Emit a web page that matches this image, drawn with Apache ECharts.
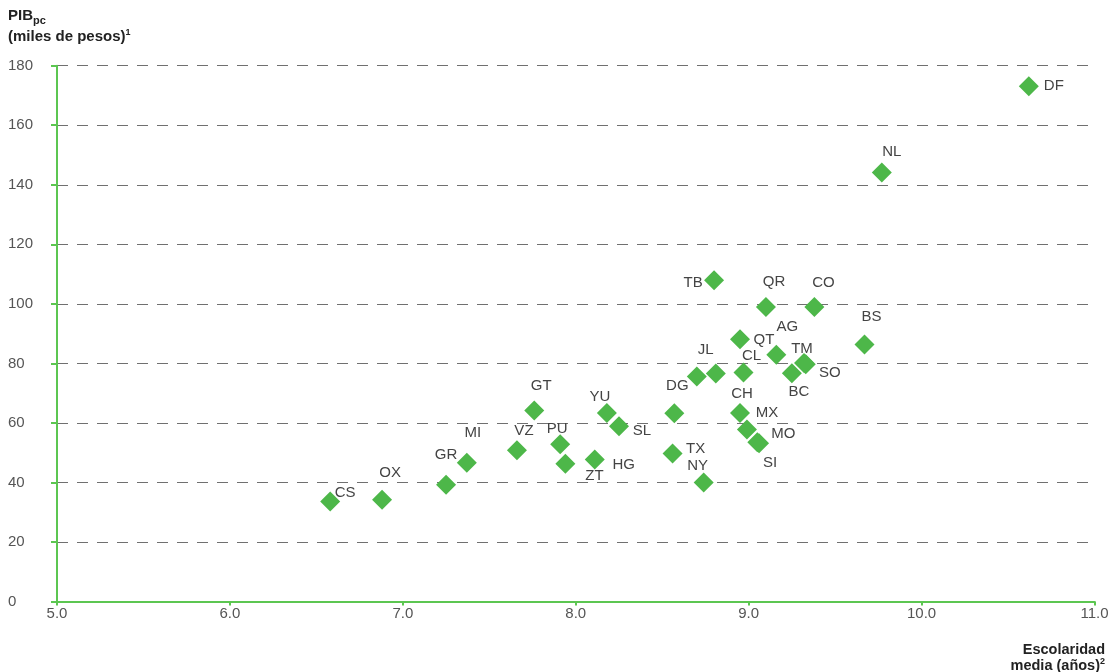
<!DOCTYPE html>
<html>
<head>
<meta charset="utf-8">
<script src="https://cdn.jsdelivr.net/npm/echarts@6/dist/echarts.min.js"></script>
<style>
  html, body { margin: 0; padding: 0; background: #fff; }
  #chart { width: 1109px; height: 672px; }
</style>
</head>
<body>
<div id="chart"></div>
<script>
// ---- Data ----
const states    = ['CS', 'OX', 'GR', 'MI', 'VZ', 'GT', 'PU', 'ZT', 'HG', 'YU', 'SL', 'DG', 'TX', 'NY', 'JL', '',
                   'TB', 'QR', 'CO', 'QT', 'AG', 'CL', 'BC', 'SO', 'TM', 'BS', 'CH', 'MX', 'SI', 'MO', 'NL', 'DF'];
const schooling = [6.58, 6.88, 7.25, 7.37, 7.66, 7.76, 7.91, 7.94, 8.11, 8.18, 8.25, 8.57, 8.56, 8.74, 8.70, 8.81,
                   8.80, 9.10, 9.38, 8.95, 9.16, 8.97, 9.25, 9.33, 9.32, 9.67, 8.95, 8.99, 9.06, 9.05, 9.77, 10.62];
const gdp       = [33.6, 34.2, 39.2, 46.6, 50.8, 64.2, 52.8, 46.3, 47.7, 63.3, 58.9, 63.2, 49.7, 40.0, 75.6, 76.6,
                   107.9, 98.9, 98.9, 88.1, 82.9, 76.9, 76.7, 79.7, 80.1, 86.3, 63.3, 57.8, 53.2, 53.5, 144.1, 173.1];
const yTicks = [0, 20, 40, 60, 80, 100, 120, 140, 160, 180];
const xTicks = ['5.0', '6.0', '7.0', '8.0', '9.0', '10.0', '11.0'];

// ---- Label placement (style only: pixel offsets of each label from its marker) ----
const labelOffsets = {
  CS: [15, -9], OX: [8, -27], GR: [0, -30], MI: [6, -30], VZ: [7, -19], GT: [7, -25],
  PU: [-3, -15], ZT: [29, 12], HG: [29, 5], YU: [-7, -16], SL: [23, 5], DG: [3, -28],
  TX: [23, -5], NY: [-6, -17], JL: [9, -27], TB: [-21, 3], QR: [8, -25], CO: [9, -24],
  QT: [24, 1], AG: [11, -28], CL: [8, -17], BC: [7, 19], SO: [24, 9], TM: [-2, -14],
  BS: [7, -28], CH: [2, -19], MX: [20, -17], SI: [11, 20], MO: [26, -8], NL: [10, -21],
  DF: [25, 0]
};

const axisGreen = '#5cc651';
const markerGreen = '#4db749';
const font = '"Liberation Sans", Arial, sans-serif';

const chart = echarts.init(document.getElementById('chart'));
const data = states.map((s, i) => ({
  name: s,
  value: [schooling[i], gdp[i]],
  label: { offset: labelOffsets[s] || [0, 0] }
}));

chart.setOption({
  animation: false,
  grid: { left: 57, right: 14.5, top: 65.7, bottom: 70.5, containLabel: false, outerBoundsMode: 'none' },
  xAxis: {
    type: 'value',
    min: 5, max: 11, interval: 1,
    axisLine: { show: true, lineStyle: { color: axisGreen, width: 2 } },
    axisTick: { show: true, length: 4, lineStyle: { color: axisGreen, width: 2 } },
    splitLine: { show: false },
    axisLabel: {
      color: '#555', fontSize: 15, fontFamily: font, margin: 5,
      formatter: v => xTicks[Math.round(v - 5)]
    }
  },
  yAxis: {
    type: 'value',
    min: 0, max: 180, interval: 20,
    axisLine: { show: true, lineStyle: { color: axisGreen, width: 2 } },
    axisTick: { show: true, length: 6, lineStyle: { color: axisGreen, width: 2 } },
    splitLine: { show: true, lineStyle: { color: '#707070', width: 1.2, type: [11, 9] } },
    axisLabel: {
      color: '#555', fontSize: 15, fontFamily: font, margin: 49, align: 'left',
      formatter: v => String(yTicks[Math.round(v / 20)])
    }
  },
  series: [{
    type: 'scatter',
    symbol: 'diamond',
    symbolSize: 20,
    itemStyle: { color: markerGreen, opacity: 1 },
    label: {
      show: true,
      position: 'inside',
      formatter: '{b}',
      color: '#444',
      fontSize: 15,
      fontFamily: font
    },
    data: data
  }],
  graphic: [
    {
      type: 'text', left: 8, top: 6,
      style: {
        text: '{b|PIB}{s|pc}\n{b|(miles de pesos)}{p|1}',
        rich: {
          b: { fontSize: 15, fontWeight: 'bold', fontFamily: font, fill: '#222', lineHeight: 21 },
          s: { fontSize: 11, fontWeight: 'bold', fontFamily: font, fill: '#222', padding: [9, 0, 0, 0], lineHeight: 21 },
          p: { fontSize: 9, fontWeight: 'bold', fontFamily: font, fill: '#222', padding: [0, 0, 9, 0], lineHeight: 21 }
        }
      }
    },
    {
      type: 'text', right: 4, top: 642,
      style: {
        text: '{b|Escolaridad}\n{b|media (años)}{p|2}',
        align: 'right',
        rich: {
          b: { fontSize: 14.5, fontWeight: 'bold', fontFamily: font, fill: '#222', lineHeight: 16, align: 'right' },
          p: { fontSize: 9, fontWeight: 'bold', fontFamily: font, fill: '#222', padding: [0, 0, 7, 0], lineHeight: 16, align: 'right' }
        }
      }
    }
  ]
});
</script>
</body>
</html>
